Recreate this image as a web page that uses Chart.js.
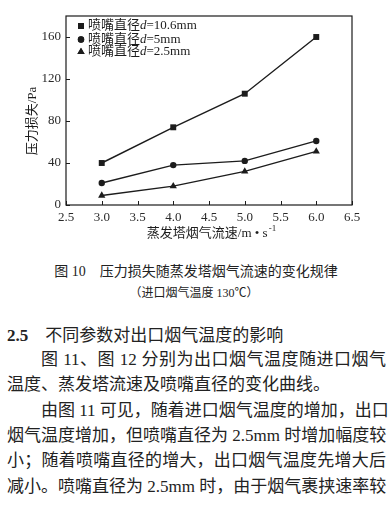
<!DOCTYPE html>
<html>
<head>
<meta charset="utf-8">
<script src="https://cdn.jsdelivr.net/npm/chart.js@4.4.1/dist/chart.umd.min.js"></script>
<style>
html, body { margin: 0; padding: 0; background: #fff; }
body { width: 392px; height: 512px; position: relative; overflow: hidden; color: #222;
       font-family: "Liberation Serif", "Noto Sans CJK SC", serif; }
#wrap { position: absolute; left: 0; top: 0; width: 392px; height: 250px; }
.cap { position: absolute; left: 0; width: 392px; text-align: center; white-space: nowrap; }
.ln { position: absolute; left: 7px; width: 379px; font-size: 17px; line-height: 20px; white-space: nowrap; }
.j { text-align: justify; text-align-last: justify; }
.ind { text-indent: 2em; }
</style>
</head>
<body>
<div id="wrap"><canvas id="lossChart" width="392" height="250"></canvas></div>

<div class="cap" style="top:263px;font-size:14px;line-height:18px;">图 10&emsp;压力损失随蒸发塔烟气流速的变化规律</div>
<div class="cap" style="top:285px;font-size:12px;line-height:16px;left:-2px;">（进口烟气温度 130℃）</div>

<div class="ln" style="top:326px;"><b>2.5</b>&emsp;不同参数对出口烟气温度的影响</div>
<div class="ln j ind" style="top:350px;">图 11、图 12 分别为出口烟气温度随进口烟气</div>
<div class="ln" style="top:375px;">温度、蒸发塔流速及喷嘴直径的变化曲线。</div>
<div class="ln j ind" style="top:401px;">由图 11 可见，随着进口烟气温度的增加，出口</div>
<div class="ln j" style="top:426px;">烟气温度增加，但喷嘴直径为 2.5mm 时增加幅度较</div>
<div class="ln j" style="top:451px;">小；随着喷嘴直径的增大，出口烟气温度先增大后</div>
<div class="ln j" style="top:477px;">减小。喷嘴直径为 2.5mm 时，由于烟气裹挟速率较</div>

<script>
// ---- data ----
const speeds = [3.0, 4.0, 5.0, 6.0];          // 蒸发塔烟气流速 m/s
const loss106 = [40, 74, 106, 160];           // d = 10.6mm
const loss5 = [21, 38, 42, 61];               // d = 5mm
const loss25 = [9, 18, 32, 51];               // d = 2.5mm
const nozzleSizes = ['10.6mm', '5mm', '2.5mm'];
const markerStyles = ['rect', 'circle', 'triangle'];
const xTicks = [2.5, 3.0, 3.5, 4.0, 4.5, 5.0, 5.5, 6.0, 6.5];
const yTicks = [0, 40, 80, 120, 160];

const INK = '#1c1c1c';
const SERIF = '"Liberation Serif", "Noto Sans CJK SC", serif';
const markerRadius = { rect: 4.2, circle: 3.2, triangle: 4.2 };

const seriesValues = [loss106, loss5, loss25];
const datasets = seriesValues.map((vals, i) => ({
    label: '喷嘴直径d=' + nozzleSizes[i],
    data: speeds.map((s, k) => ({ x: s, y: vals[k] })),
    borderColor: INK,
    backgroundColor: INK,
    borderWidth: 1.4,
    pointStyle: markerStyles[i],
    pointRadius: markerRadius[markerStyles[i]],
    pointBorderWidth: 0,
    tension: 0,
}));

// frame, inward ticks, legend and axis titles
const decor = {
    id: 'decor',
    afterDraw(chart) {
        const { ctx, chartArea: a, scales: { x, y } } = chart;
        ctx.save();
        ctx.strokeStyle = INK;
        ctx.lineWidth = 1.2;
        ctx.strokeRect(a.left, a.top, a.right - a.left, a.bottom - a.top);

        ctx.lineWidth = 1;
        ctx.beginPath();
        xTicks.forEach(v => {
            const px = Math.round(x.getPixelForValue(v)) + 0.5;
            ctx.moveTo(px, a.bottom); ctx.lineTo(px, a.bottom - 4);
        });
        yTicks.forEach(v => {
            const py = Math.round(y.getPixelForValue(v)) + 0.5;
            ctx.moveTo(a.left, py); ctx.lineTo(a.left + 4, py);
        });
        ctx.stroke();

        // legend inside the plot
        ctx.fillStyle = INK;
        ctx.textBaseline = 'middle';
        const rows = [26, 39.5, 52];
        datasets.forEach((ds, i) => {
            const ly = a.top + rows[i] - 16;
            Chart.helpers.drawPoint(ctx, {
                pointStyle: ds.pointStyle, radius: ds.pointRadius, rotation: 0, borderWidth: 0
            }, a.left + 15, ly);
            ctx.fill();
            let tx = a.left + 22;
            ctx.font = '13px ' + SERIF;
            ctx.textAlign = 'left';
            ctx.fillText('喷嘴直径', tx, ly);
            tx += ctx.measureText('喷嘴直径').width;
            ctx.font = 'italic 13px ' + SERIF;
            ctx.fillText('d', tx, ly);
            tx += ctx.measureText('d').width;
            ctx.font = '13px ' + SERIF;
            ctx.fillText('=' + nozzleSizes[i], tx, ly);
        });

        // y title
        ctx.save();
        ctx.translate(33, 121);
        ctx.rotate(-Math.PI / 2);
        ctx.textAlign = 'center';
        ctx.font = '13px ' + SERIF;
        ctx.fillText('压力损失/Pa', 0, 0);
        ctx.restore();

        // x title with superscript
        ctx.font = '13px ' + SERIF;
        const main = '蒸发塔烟气流速/m • s';
        const wMain = ctx.measureText(main).width;
        ctx.font = '9px ' + SERIF;
        const sup = '-1';
        const wSup = ctx.measureText(sup).width;
        let sx = 211 - (wMain + wSup) / 2;
        ctx.textAlign = 'left';
        ctx.font = '13px ' + SERIF;
        ctx.fillText(main, sx, 234);
        ctx.font = '9px ' + SERIF;
        ctx.fillText(sup, sx + wMain + 1, 229);
        ctx.restore();
    }
};

new Chart(document.getElementById('lossChart').getContext('2d'), {
    type: 'line',
    data: { datasets },
    options: {
        responsive: false,
        animation: false,
        events: [],
        layout: { padding: { left: 0, top: 16, right: 40, bottom: 0 } },
        plugins: { legend: { display: false }, tooltip: { enabled: false } },
        scales: {
            x: {
                type: 'linear', min: 2.5, max: 6.5,
                afterFit: s => { s.height = 45; },
                afterBuildTicks: s => { s.ticks = xTicks.map(v => ({ value: v })); },
                grid: { display: false, drawTicks: false },
                border: { display: false },
                ticks: { padding: 5, color: '#2a2a2a', font: { family: SERIF, size: 13 },
                         maxRotation: 0, autoSkip: false, callback: v => v.toFixed(1) },
            },
            y: {
                type: 'linear', min: 0, max: 180,
                afterFit: s => { s.width = 66; },
                afterBuildTicks: s => { s.ticks = yTicks.map(v => ({ value: v })); },
                grid: { display: false, drawTicks: false },
                border: { display: false },
                ticks: { padding: 5, color: '#2a2a2a', font: { family: SERIF, size: 13 } },
            },
        },
    },
    plugins: [decor],
});
</script>
</body>
</html>
